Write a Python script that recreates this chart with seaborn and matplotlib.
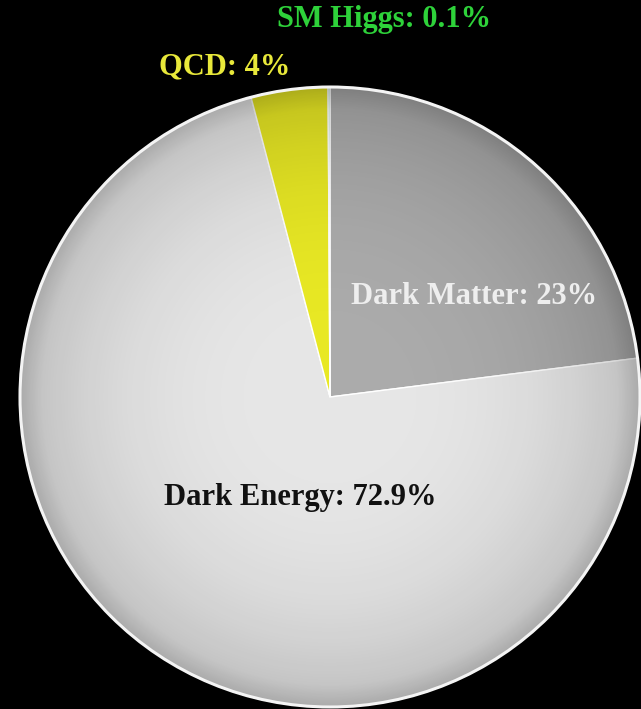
import numpy as np
import matplotlib
matplotlib.use("Agg")
import matplotlib.pyplot as plt
from matplotlib.patches import Circle
import seaborn as sns

# Composition shares, in drawing order (clockwise from 12 o'clock)
components = ["Dark Matter", "Dark Energy", "QCD", "SM Higgs"]
shares = [23.0, 72.9, 4.0, 0.1]
share_labels = ["23%", "72.9%", "4%", "0.1%"]
slice_colors = ["#ababab", "#e6e6e6", "#e8e824", "#a6e6c6"]
label_colors = ["#eeeeee", "#111111", "#e8e83a", "#2ed23a"]

sns.set_theme(style="white")
plt.rcParams["font.family"] = ["Liberation Serif", "DejaVu Serif"]

W, H = 641, 709
fig = plt.figure(figsize=(W / 100, H / 100), dpi=100, facecolor="black")
ax = fig.add_axes([0, 0, 1, 1])
ax.set_facecolor("black")

cx, cy, R = 330, H - 397, 310

wedges, _ = ax.pie(
    shares,
    colors=slice_colors,
    startangle=90,
    counterclock=False,
    center=(cx, cy),
    radius=R,
    wedgeprops=dict(edgecolor="white", linewidth=1.0),
    frame=True,
)

# radial shading: darker toward the rim
n = 600
xs = np.linspace(cx - R, cx + R, n)
ys = np.linspace(cy - R, cy + R, n)
X, Y = np.meshgrid(xs, ys)
rr = np.sqrt((X - cx) ** 2 + (Y - cy) ** 2) / R
alpha = np.clip(0.18 * rr ** 3.0 + 0.08 * np.clip((rr - 0.93) / 0.07, 0, 1), 0, 1)
shade = np.zeros((n, n, 4))
shade[..., 3] = alpha
img = ax.imshow(shade, extent=(cx - R, cx + R, cy - R, cy + R),
                origin="lower", zorder=3, interpolation="bilinear")
clip = Circle((cx, cy), R, transform=ax.transData)
img.set_clip_path(clip)

# bright rim
ax.add_patch(Circle((cx, cy), R, facecolor="none", edgecolor="#f4f4f4",
                    linewidth=2.2, zorder=4))

ax.set_xlim(0, W)
ax.set_ylim(0, H)
ax.set_aspect("auto")
ax.set_xticks([])
ax.set_yticks([])
for s in ax.spines.values():
    s.set_visible(False)

positions = [(474, H - 297), (300, H - 497), (225, H - 67), (384, H - 20)]
sizes = [22, 22, 22, 22]
for name, lab, col, (x, y), fs in zip(components, share_labels, label_colors, positions, sizes):
    ax.text(x, y, f"{name}: {lab}", color=col, fontsize=fs, fontweight="bold",
            ha="center", va="center", zorder=5)

fig.savefig("out.png", dpi=100, facecolor="black")
